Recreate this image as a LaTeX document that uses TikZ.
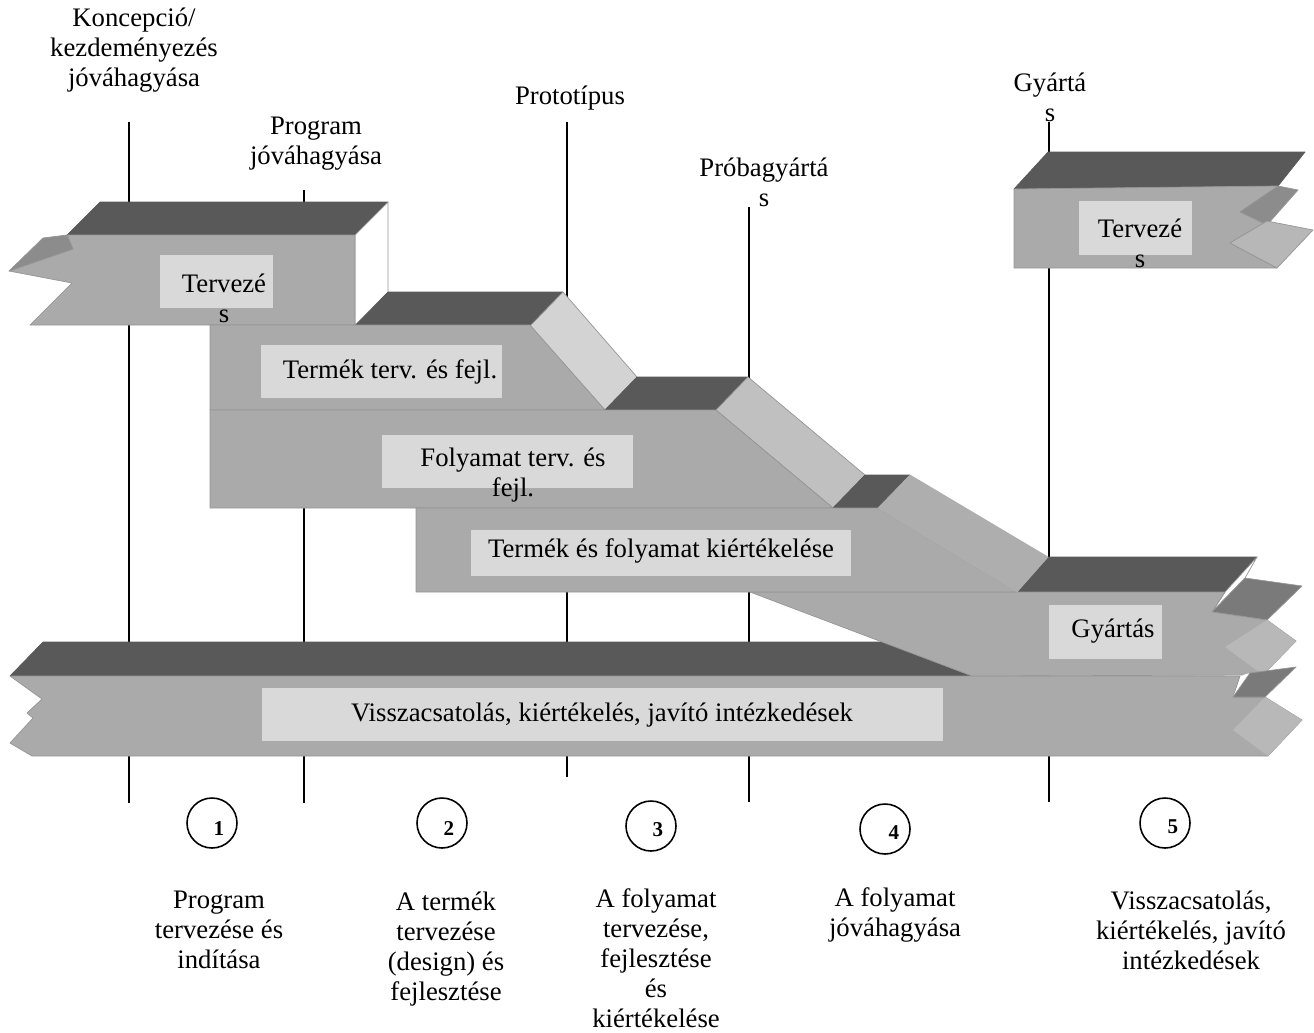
\documentclass[tikz,border=0pt]{standalone}
\usepackage{fontspec}
\setmainfont{Liberation Serif}
\usetikzlibrary{positioning,calc}
\definecolor{frontgray}{HTML}{AAAAAA}
\definecolor{topgray}{HTML}{595959}
\definecolor{boxgray}{HTML}{D9D9D9}
\definecolor{edgegray}{HTML}{969696}
\definecolor{slopegray}{HTML}{D3D3D3}
\definecolor{slopegrayb}{HTML}{C0C0C0}
\definecolor{slopegrayc}{HTML}{AEAEAE}
\definecolor{flapgray}{HTML}{7A7A7A}
\definecolor{flapgrayb}{HTML}{8C8C8C}
\definecolor{tipgray}{HTML}{B8B8B8}
\tikzset{
	front/.style={fill=frontgray, draw=edgegray, line width=0.4pt, line join=round},
	topface/.style={fill=topgray, draw=topgray, line width=0.4pt, line join=round},
	sideface/.style={draw=edgegray, line width=0.4pt, line join=round},
	labbox/.style={fill=boxgray},
	txt/.style={align=center, inner sep=0pt, font=\fontsize{15.2}{17.1}\selectfont},
	milestone/.style={line width=1.1pt},
	numcirc/.style={circle, draw, line width=0.9pt, minimum size=1cm, inner sep=0pt},
	numtxt/.style={inner sep=0pt, font=\fontsize{12}{14}\selectfont\bfseries}
}

\begin{document}
\begin{tikzpicture}[x=0.02cm, y=-0.02cm]
	\useasboundingbox (0,0) rectangle (1314,1032);

	% milestones
	\coordinate (m1t) at (129,122);  \coordinate (m1b) at (129,803);
	\coordinate (m2t) at (304,190);  \coordinate (m2b) at (304,803);
	\coordinate (m3t) at (567,122);  \coordinate (m3b) at (567,777);
	\coordinate (m4t) at (749,207);  \coordinate (m4b) at (749,802);
	\coordinate (m5t) at (1049,122); \coordinate (m5b) at (1049,802);
	\draw[milestone] (m1t) -- (m1b);
	\draw[milestone] (m2t) -- (m2b);
	\draw[milestone] (m3t) -- (m3b);
	\draw[milestone] (m4t) -- (m4b);
	\draw[milestone] (m5t) -- (m5b);

	\node[txt] (lkonc)  at (134,50)  {Koncepció/\\kezdeményezés\\jóváhagyása};
	\node[txt] (lprog)  at (316,144) {Program\\jóváhagyása};
	\node[txt] (lproto) at (570,98)  {Prototípus};
	\node[txt] (lproba) at (764,182) {Próbagyártá\\s};
	\node[txt] (lgyart) at (1050,97) {Gyártá\\s};

	% tervezes (left)
	\draw[topface] (67,235) -- (100,202) -- (388,202) -- (355,235) -- cycle;
	\filldraw[sideface, fill=white] (355,235) -- (388,202) -- (388,292) -- (355,325) -- cycle;
	\draw[front] (67,235) -- (355,235) -- (355,325) -- (30,325) -- (72,283) -- (9,271) -- (73,249) -- cycle;
	\filldraw[sideface, fill=flapgrayb] (9,271) -- (43,238) -- (67,235) -- (73,249) -- cycle;

	% termek terv.
	\draw[topface] (355,326) -- (388,292) -- (563,292) -- (530,326) -- cycle;
	\filldraw[sideface, fill=slopegray] (530,326) -- (563,292) -- (637,377) -- (605,410) -- cycle;
	\draw[front] (210,325) -- (530,325) -- (605,410) -- (210,410) -- cycle;

	% folyamat terv.
	\draw[topface] (605,410) -- (637,377) -- (748,377) -- (716,410) -- cycle;
	\filldraw[sideface, fill=slopegrayb] (716,410) -- (748,377) -- (865,475) -- (833,508) -- cycle;
	\draw[front] (210,410) -- (716,410) -- (833,508) -- (210,508) -- cycle;

	% visszacsatolas
	\draw[topface] (10,676) -- (43,642) -- (900,642) -- (972,676) -- cycle;
	\draw[front] (10,676) -- (1240,676) -- (1233,697) -- (1265,697) -- (1302,720) -- (1268,756) -- (32,756) -- (10,743) -- (33,718) -- (27,713) -- (42,699) -- cycle;
	\fill[tipgray] (1233,730) -- (1265,697) -- (1302,720) -- (1268,756) -- cycle;

	% gyartas
	\draw[topface] (1017,592) -- (1048,557) -- (1257,557) -- (1225,592) -- cycle;
	\filldraw[sideface, fill=white] (1225,592) -- (1257,557) -- (1245,578) -- (1212,612) -- cycle;
	\filldraw[sideface, fill=flapgray] (1212,612) -- (1245,578) -- (1302,586) -- (1267,620) -- cycle;
	\draw[front] (750,592) -- (1225,592) -- (1212,612) -- (1267,620) -- (1296,641) -- (1263,675) -- (972,676) -- cycle;
	\fill[tipgray] (1225,647) -- (1267,620) -- (1296,641) -- (1263,675) -- cycle;
	\fill[white] (1233,697) -- (1243,675) -- (1250,673) -- cycle;
	\filldraw[sideface, fill=flapgray] (1233,697) -- (1250,673) -- (1296,667) -- (1265,697) -- cycle;

	% kiertekeles
	\draw[topface] (833,508) -- (865,475) -- (910,475) -- (878,508) -- cycle;
	\draw[front] (416,508) -- (878,508) -- (1017,592) -- (416,592) -- cycle;
	\filldraw[sideface, fill=slopegrayc, draw=slopegrayc] (878,508) -- (910,475) -- (1048,557) -- (1017,592) -- cycle;

	% tervezes (right)
	\draw[topface] (1014,189) -- (1048,152) -- (1305,152) -- (1278,186) -- cycle;
	\draw[front] (1014,189) -- (1278,186) -- (1240,212) -- (1267,221) -- (1230,243) -- (1277,268) -- (1014,268) -- cycle;
	\filldraw[sideface, fill=flapgrayb] (1278,186) -- (1298,190) -- (1267,225) -- (1240,212) -- cycle;
	\filldraw[sideface, fill=frontgray!85!white] (1230,243) -- (1267,221) -- (1313,230) -- (1277,268) -- cycle;

	% label boxes
	\fill[labbox] (160,255) rectangle (273,308);
	\fill[labbox] (261,345) rectangle (502,398);
	\fill[labbox] (382,435) rectangle (633,488);
	\fill[labbox] (471,530) rectangle (851,576);
	\fill[labbox] (1049,605) rectangle (1162,659);
	\fill[labbox] (262,688) rectangle (943,741);
	\fill[labbox] (1079,201) rectangle (1192,255);

	\node[txt] (tterv1)  at (224,298)  {Tervezé\\s};
	\node[txt] (ttermek) at (390,372)  {Termék terv. és fejl.};
	\node[txt] (tfoly)   at (513,475)  {Folyamat terv. és\\fejl.};
	\node[txt] (tkiert)  at (661,551)  {Termék és folyamat kiértékelése};
	\node[txt] (tgyart)  at (1113,631) {Gyártás};
	\node[txt] (tvissza) at (602,715)  {Visszacsatolás, kiértékelés, javító intézkedések};
	\node[txt] (tterv2)  at (1140,243) {Tervezé\\s};

	% phases
	\node[numcirc] (c1) at (212,823)  {};
	\node[numcirc] (c2) at (442,823)  {};
	\node[numcirc] (c3) at (651,826)  {};
	\node[numcirc] (c4) at (885,829)  {};
	\node[numcirc] (c5) at (1165,823) {};
	\node[numtxt] (n1) at ($(c1)+(7,6)$) {1};
	\node[numtxt] (n2) at ($(c2)+(7,6)$) {2};
	\node[numtxt] (n3) at ($(c3)+(7,4)$) {3};
	\node[numtxt] (n4) at ($(c4)+(9,4)$) {4};
	\node[numtxt] (n5) at ($(c5)+(8,4)$) {5};

	\node[txt] (d1) at (219,930)  {Program\\tervezése és\\indítása};
	\node[txt] (d2) at (446,949)  {A termék\\tervezése\\(design) és\\fejlesztése};
	\node[txt] (d3) at (656,958)  {A folyamat\\tervezése,\\fejlesztése\\és\\kiértékelése};
	\node[txt] (d4) at (895,915)  {A folyamat\\jóváhagyása};
	\node[txt] (d5) at (1191,930) {Visszacsatolás,\\kiértékelés, javító\\intézkedések};
\end{tikzpicture}
\end{document}
